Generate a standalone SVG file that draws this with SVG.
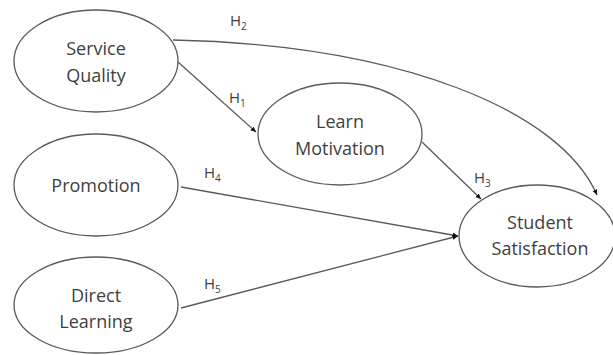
<svg xmlns="http://www.w3.org/2000/svg" width="613" height="355" viewBox="0 0 613 355">
<style>
.node ellipse{fill:#fff;stroke:#5a5a5a;stroke-width:1.3}
.lbl{font-family:"Open Sans","Liberation Sans",sans-serif;font-size:18px;fill:#404040;text-anchor:middle}
.h{font-family:"Open Sans","Liberation Sans",sans-serif;font-size:15px;fill:#404040}
.h tspan{font-size:10px}
.edges path{fill:none;stroke:#5a5a5a;stroke-width:1.3;marker-end:url(#arr)}
</style>
<defs>
<marker id="arr" markerUnits="userSpaceOnUse" markerWidth="7" markerHeight="6" refX="5.5" refY="2.5" orient="auto">
<path d="M0,0 L5.5,2.5 L0,5 Z" fill="#111"/>
</marker>
</defs>
<rect width="613" height="355" fill="#fff"/>
<g class="edges">
<path d="M178,62 L256,132"/>
<path d="M173,40 C400,45 560,110 597,195"/>
<path d="M422,142 L481,199"/>
<path d="M181,187 L458,236"/>
<path d="M181,308 L458,236"/>
</g>
<g id="service-quality" class="node">
<ellipse cx="96" cy="61" rx="82" ry="51"/>
<text class="lbl" x="96" y="55">Service</text>
<text class="lbl" x="96" y="82">Quality</text>
</g>
<g id="learn-motivation" class="node">
<ellipse cx="340" cy="134" rx="82" ry="51"/>
<text class="lbl" x="340" y="128">Learn</text>
<text class="lbl" x="340" y="155">Motivation</text>
</g>
<g id="promotion" class="node">
<ellipse cx="96" cy="185" rx="82" ry="51"/>
<text class="lbl" x="96" y="192">Promotion</text>
</g>
<g id="direct-learning" class="node">
<ellipse cx="96" cy="305" rx="82" ry="48"/>
<text class="lbl" x="96" y="302">Direct</text>
<text class="lbl" x="96" y="328">Learning</text>
</g>
<g id="student-satisfaction" class="node">
<ellipse cx="537" cy="236" rx="78" ry="51"/>
<text class="lbl" x="540" y="229">Student</text>
<text class="lbl" x="540" y="255">Satisfaction</text>
</g>
<g id="labels">
<text class="h" x="230" y="26">H<tspan dy="4">2</tspan></text>
<text class="h" x="229" y="103">H<tspan dy="4">1</tspan></text>
<text class="h" x="204" y="178">H<tspan dy="4">4</tspan></text>
<text class="h" x="204" y="289">H<tspan dy="4">5</tspan></text>
<text class="h" x="474" y="183">H<tspan dy="4">3</tspan></text>
</g>
</svg>
